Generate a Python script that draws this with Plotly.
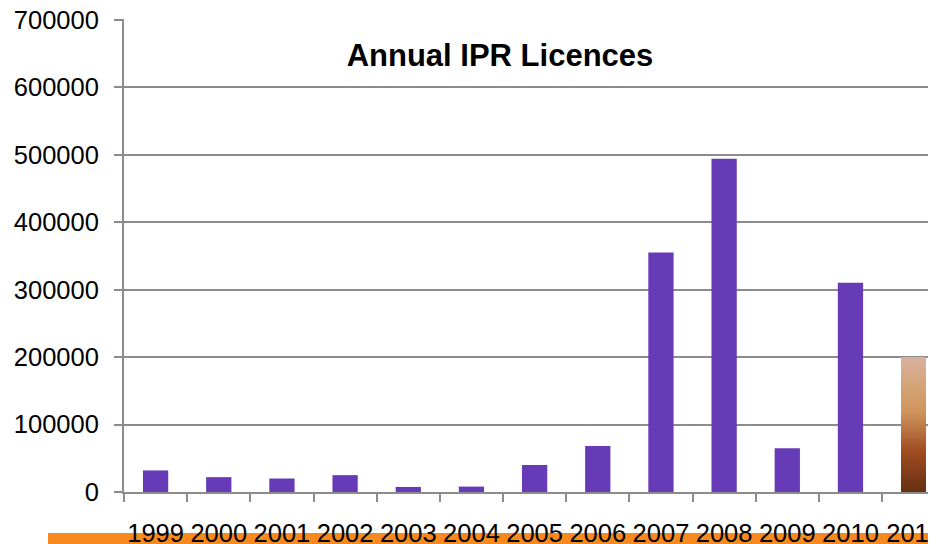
import plotly.graph_objects as go
import numpy as np

years = ["1999", "2000", "2001", "2002", "2003", "2004", "2005",
         "2006", "2007", "2008", "2009", "2010", "2011"]
licences = [32000, 22000, 20000, 25000, 7500, 8000, 40000,
            68000, 355000, 494000, 65000, 310000, 200000]
y_ticks = [0, 100000, 200000, 300000, 400000, 500000, 600000, 700000]
title_text = "Annual IPR Licences"

PURPLE = "#673AB7"
GRID = "#8C8C8C"
FONT = "Liberation Sans, Arial, sans-serif"
BAR_W = 0.4
OFF = 8  # page body margin offset
W, H = 936, 544 - OFF
L, T = 124 - OFF, 19 - OFF
plot_bottom = 492 - OFF
B = H - plot_bottom
plot_w = W - L
plot_h = plot_bottom - T
cat_px = 63.17
x_range = [-0.5, -0.5 + plot_w / cat_px]
y_range = [0, 701000]

colors = [PURPLE] * (len(years) - 1) + ["rgba(0,0,0,0)"]

fig = go.Figure()
fig.add_trace(go.Bar(
    x=years, y=licences, width=BAR_W,
    marker=dict(color=colors, line=dict(width=0)),
    hoverinfo="x+y",
))

# gradient fill for the last (estimated) year, drawn over its bar
last_idx = len(years) - 1
last_val = licences[-1]
n = 40
y_edges = np.linspace(0, last_val, n + 1)
z = [[i / (n - 1)] for i in range(n)]
fig.add_trace(go.Heatmap(
    x=[last_idx - BAR_W / 2, last_idx + BAR_W / 2],
    y=y_edges, z=z, xaxis="x2", yaxis="y",
    zsmooth="best", showscale=False, hoverinfo="skip",
    colorscale=[[0.0, "#673013"], [0.3, "#A04C20"], [0.6, "#D0955E"],
                [0.78, "#D4A274"], [1.0, "#D8B09C"]],
    zmin=0, zmax=1,
))

fig.update_layout(
    width=W, height=H,
    margin=dict(l=L, r=0, t=T, b=B, pad=0, autoexpand=False),
    paper_bgcolor="white", plot_bgcolor="white",
    showlegend=False,
    font=dict(family=FONT, size=25.5, color="black"),
    title=dict(text=title_text, x=(500 - OFF) / W, xanchor="center",
               xref="container", y=1 - (55 - OFF) / H, yanchor="middle",
               yref="container",
               font=dict(family=FONT, size=31, color="black", weight=700)),
    xaxis=dict(
        type="category", categoryorder="array", categoryarray=years,
        range=x_range, tickson="boundaries", ticks="outside", ticklen=8,
        tickwidth=2, tickcolor=GRID, showline=True, linecolor=GRID,
        linewidth=2, showgrid=False, ticklabelstandoff=17, tickangle=0,
        automargin=False, ticklabeloverflow="allow",
        tickfont=dict(family=FONT, size=25.5, color="black"),
        fixedrange=True,
    ),
    xaxis2=dict(overlaying="x", range=x_range, visible=False,
                fixedrange=True),
    yaxis=dict(
        range=y_range, tickvals=y_ticks,
        ticktext=[str(v) for v in y_ticks],
        ticks="outside", ticklen=8, tickwidth=2, tickcolor=GRID,
        showline=True, linecolor=GRID, linewidth=2,
        showgrid=True, gridcolor=GRID, gridwidth=2,
        zeroline=False, ticklabelstandoff=10, automargin=False,
        ticklabeloverflow="allow",
        tickfont=dict(family=FONT, size=25.5, color="black"),
        fixedrange=True,
    ),
    shapes=[dict(type="rect", xref="paper", yref="paper",
                 x0=(48 - 124) / plot_w, x1=1.0,
                 y0=-(H - plot_bottom + 5) / plot_h,
                 y1=-(533 - 492) / plot_h,
                 fillcolor="#F7891E", line=dict(width=0), layer="below")],
)

fig.write_html("out.html")
